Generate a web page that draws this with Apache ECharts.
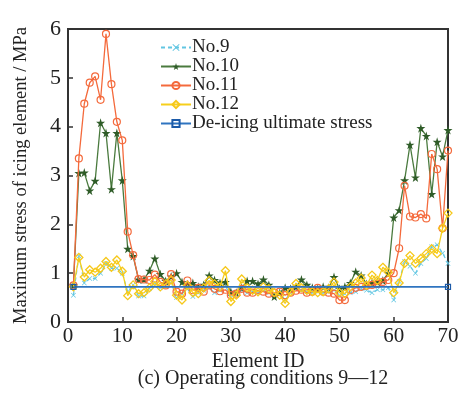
<!DOCTYPE html>
<html>
<head>
<meta charset="utf-8">
<script src="https://cdn.jsdelivr.net/npm/echarts@6/dist/echarts.min.js"></script>
<style>
  html, body { margin: 0; padding: 0; background: #fff; }
  #chart { width: 466px; height: 399px; }
</style>
</head>
<body>
<div id="chart"></div>
<script>
const elementIds = [1, 2, 3, 4, 5, 6, 7, 8, 9, 10, 11, 12, 13, 14, 15, 16, 17, 18, 19, 20,
  21, 22, 23, 24, 25, 26, 27, 28, 29, 30, 31, 32, 33, 34, 35, 36, 37, 38, 39, 40,
  41, 42, 43, 44, 45, 46, 47, 48, 49, 50, 51, 52, 53, 54, 55, 56, 57, 58, 59, 60,
  61, 62, 63, 64, 65, 66, 67, 68, 69, 70];

const no9 = [0.55, 1.35, 0.8, 0.89, 0.89, 1.0, 1.2, 1.1, 1.1, 1.0,
  0.62, 0.76, 0.53, 0.53, 0.68, 0.8, 0.7, 0.75, 0.8, 0.5,
  0.58, 0.68, 0.52, 0.6, 0.65, 0.7, 0.6, 0.65, 0.75, 0.5,
  0.55, 0.65, 0.6, 0.62, 0.6, 0.65, 0.6, 0.55, 0.6, 0.45,
  0.6, 0.7, 0.65, 0.62, 0.6, 0.62, 0.6, 0.62, 0.65, 0.55,
  0.58, 0.6, 0.62, 0.68, 0.65, 0.6, 0.66, 0.66, 0.7, 0.45,
  0.83, 1.24, 1.14, 1.0, 1.2, 1.3, 1.54, 1.58, 1.41, 1.2];

const no10 = [0.75, 3.05, 3.06, 2.69, 2.89, 4.08, 3.87, 2.72, 3.87, 2.9,
  1.5, 1.35, 0.87, 0.87, 1.05, 1.3, 0.98, 0.84, 0.93, 1.0,
  0.82, 0.76, 0.8, 0.72, 0.76, 0.95, 0.86, 0.8, 0.82, 0.62,
  0.6, 0.7, 0.84, 0.84, 0.78, 0.87, 0.76, 0.52, 0.6, 0.7,
  0.68, 0.72, 0.87, 0.76, 0.7, 0.68, 0.72, 0.7, 0.92, 0.68,
  0.72, 0.8, 1.03, 0.95, 0.78, 0.8, 0.82, 0.85, 1.0, 2.14,
  2.29, 2.9, 3.63, 2.96, 3.97, 3.81, 2.62, 3.69, 3.39, 3.93];

const no11 = [0.75, 3.35, 4.47, 4.9, 5.03, 4.55, 5.9, 4.87, 4.1, 3.72,
  1.85, 1.37, 0.88, 0.87, 0.86, 0.97, 0.82, 0.75, 0.98, 0.62,
  0.58, 0.85, 0.65, 0.7, 0.62, 0.75, 0.68, 0.63, 0.66, 0.55,
  0.58, 0.68, 0.6, 0.6, 0.65, 0.62, 0.58, 0.6, 0.62, 0.55,
  0.6, 0.64, 0.66, 0.6, 0.62, 0.7, 0.62, 0.6, 0.58, 0.45,
  0.45, 0.65, 0.7, 0.72, 0.74, 0.76, 0.78, 0.82, 0.86, 1.0,
  1.51, 2.79, 2.16, 2.14, 2.21, 2.12, 3.44, 3.13, 1.92, 3.51];

const no12 = [0.72, 1.32, 0.92, 1.07, 1.02, 1.1, 1.24, 1.12, 1.27, 1.04,
  0.54, 0.76, 0.58, 0.6, 0.7, 0.83, 0.72, 0.78, 0.86, 0.55,
  0.45, 0.75, 0.6, 0.58, 0.7, 0.85, 0.78, 0.72, 1.05, 0.42,
  0.55, 0.88, 0.7, 0.65, 0.62, 0.72, 0.68, 0.6, 0.55, 0.38,
  0.62, 0.79, 0.7, 0.65, 0.62, 0.6, 0.62, 0.68, 0.82, 0.6,
  0.58, 0.72, 0.8, 0.9, 0.75, 0.96, 0.85, 1.12, 1.02, 0.6,
  0.8, 1.2, 1.36, 1.2, 1.3, 1.4, 1.5, 1.4, 1.92, 2.23];

const limitIds = [1, 70];
const limitStress = [0.72, 0.72];

const xTicks = [0, 10, 20, 30, 40, 50, 60, 70];
const yTicks = [0, 1, 2, 3, 4, 5, 6];

const pair = (xs, ys) => xs.map((x, i) => [x, ys[i]]);

const font = 'Liberation Serif';
const starPath = 'path://M50,0L61,35L98,35L68,57L79,91L50,70L21,91L32,57L2,35L39,35Z';
const crossPath = 'path://M0,1L1,0L5,4L9,0L10,1L6,5L10,9L9,10L5,6L1,10L0,9L4,5Z';

const chart = echarts.init(document.getElementById('chart'));

const option = {
  animation: false,
  backgroundColor: '#fff',
  title: {
    text: '(c) Operating conditions 9\u201412',
    left: 258,
    top: 364,
    textAlign: 'center',
    textStyle: { fontFamily: font, fontSize: 20, fontWeight: 'normal', color: '#222' }
  },
  legend: {
    orient: 'vertical',
    left: 155,
    top: 33,
    itemWidth: 30,
    itemHeight: 9,
    itemGap: 0,
    textStyle: { fontFamily: font, fontSize: 19, color: '#222', lineHeight: 18.4, padding: [0, 0, 0, -4] },
    data: ['No.9', 'No.10', 'No.11', 'No.12', 'De-icing ultimate stress']
  },
  grid: {
    left: 68,
    right: 18,
    top: 29,
    bottom: 77,
    show: true,
    borderColor: '#333',
    borderWidth: 2
  },
  xAxis: {
    type: 'value',
    min: 0,
    max: 70,
    interval: 10,
    name: 'Element ID',
    nameLocation: 'middle',
    nameGap: 19,
    nameTextStyle: { fontFamily: font, fontSize: 20, color: '#222', verticalAlign: 'top' },
    axisLine: { lineStyle: { color: '#333', width: 2 } },
    axisTick: { inside: true, length: 5, lineStyle: { color: '#333', width: 1.5 } },
    axisLabel: {
      fontFamily: font, fontSize: 21, color: '#222', margin: 4,
      formatter: v => (xTicks.includes(v) ? String(v) : '')
    },
    splitLine: { show: false }
  },
  yAxis: {
    type: 'value',
    min: 0,
    max: 6,
    interval: 1,
    name: 'Maximum stress of icing element / MPa',
    nameLocation: 'middle',
    nameGap: 37,
    nameTextStyle: { fontFamily: font, fontSize: 18.5, color: '#222' },
    axisLine: { lineStyle: { color: '#333', width: 2 } },
    axisTick: { inside: true, length: 5, lineStyle: { color: '#333', width: 1.5 } },
    axisLabel: {
      fontFamily: font, fontSize: 22, color: '#222', margin: 7,
      formatter: v => (yTicks.includes(v) ? String(v) : '')
    },
    splitLine: { show: false }
  },
  series: [
    {
      name: 'No.9',
      type: 'line',
      data: pair(elementIds, no9),
      symbol: crossPath,
      symbolSize: 5,
      lineStyle: { color: '#62c6e2', width: 1.2, type: [4, 3] },
      itemStyle: { color: '#62c6e2' },
      z: 2
    },
    {
      name: 'No.10',
      type: 'line',
      data: pair(elementIds, no10),
      symbol: starPath,
      symbolSize: 9,
      lineStyle: { color: '#4a7a3e', width: 1.3 },
      itemStyle: { color: '#2f5c28' },
      z: 3
    },
    {
      name: 'No.11',
      type: 'line',
      data: pair(elementIds, no11),
      symbol: 'circle',
      symbolSize: 7,
      lineStyle: { color: '#f46a3c', width: 1.3 },
      itemStyle: { color: 'rgba(255,255,255,0)', borderColor: '#f46a3c', borderWidth: 1.2 },
      z: 4
    },
    {
      name: 'No.12',
      type: 'line',
      data: pair(elementIds, no12),
      symbol: 'diamond',
      symbolSize: 8,
      lineStyle: { color: '#f6cf1c', width: 1.3 },
      itemStyle: { color: 'rgba(255,255,255,0)', borderColor: '#f6c81a', borderWidth: 1.3 },
      z: 5
    },
    {
      name: 'De-icing ultimate stress',
      type: 'line',
      data: pair(limitIds, limitStress),
      symbol: 'rect',
      symbolSize: 5,
      lineStyle: { color: '#2f74c0', width: 1.6 },
      itemStyle: { color: 'rgba(255,255,255,0)', borderColor: '#1c5aa8', borderWidth: 1.2 },
      z: 6
    }
  ]
};

chart.setOption(option);
</script>
</body>
</html>
